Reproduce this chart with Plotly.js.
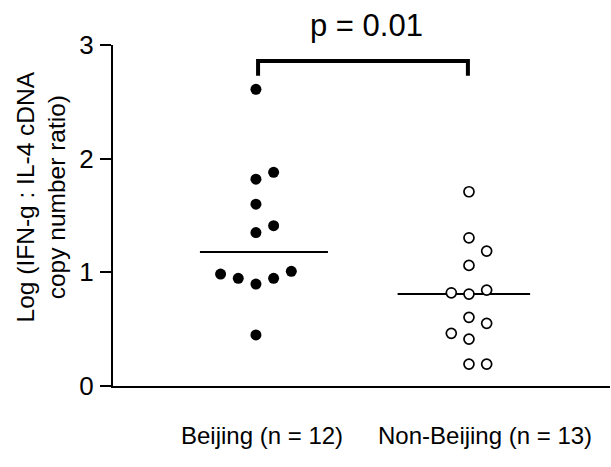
<!DOCTYPE html>
<html><head><meta charset="utf-8">
<script src="https://cdn.plot.ly/plotly-3.0.1.min.js"></script>
<style>html,body{margin:0;padding:0;background:#fff}#chart{width:611px;height:467px}</style>
</head><body><div id="chart"></div>
<script>
// Data
const groups = ["Beijing (n = 12)", "Non-Beijing (n = 13)"];
const beijing = [2.61, 1.88, 1.82, 1.60, 1.41, 1.35, 0.985, 0.947, 0.897, 0.947, 1.009, 0.449];
const nonBeijing = [1.709, 1.304, 1.187, 1.061, 0.82, 0.809, 0.844, 0.604, 0.551, 0.463, 0.413, 0.193, 0.193];
const pText = "p = 0.01";
const yTitle = "Log (IFN-g : IL-4 cDNA<br>copy number ratio)";
const yTicks = [0, 1, 2, 3];

// Layout helpers (scatter slot offsets, in marker-width units)
const beijingSlots = [0, 1, 0, 0, 1, 0, -2, -1, 0, 1, 2, 0];
const nonBeijingSlots = [0, 0, 1, 0, -1, 0, 1, 0, 1, -1, 0, 0, 1];
const slotW = 0.083;

function median(a){const s=[...a].sort((x,y)=>x-y);const n=s.length;return n%2?s[(n-1)/2]:(s[n/2-1]+s[n/2])/2;}
const mB = median(beijing), mN = median(nonBeijing);

const traces = [
  {x:[-0.263, 0.338], y:[mB, mB], mode:'lines', line:{color:'#000', width:2}, hoverinfo:'skip'},
  {x:[1-0.335, 1+0.287], y:[mN, mN], mode:'lines', line:{color:'#000', width:2}, hoverinfo:'skip'},
  {x: beijingSlots.map((s)=>0+s*slotW), y: beijing, mode:'markers', type:'scatter',
   marker:{size:11, color:'#000', line:{width:0}}, hoverinfo:'skip'},
  {x: nonBeijingSlots.map((s)=>1+s*slotW), y: nonBeijing, mode:'markers', type:'scatter',
   marker:{size:10, color:'#fff', line:{width:1.7, color:'#000'}}, hoverinfo:'skip'},
  {x:[0.01, 0.01, 0.995, 0.995], y:[2.73, 2.86, 2.86, 2.73], mode:'lines', line:{color:'#000', width:4}, hoverinfo:'skip'}
];

const layout = {
  width:611, height:467,
  margin:{l:113, r:1, t:45, b:81},
  paper_bgcolor:'#fff', plot_bgcolor:'#fff',
  showlegend:false,
  font:{family:'Arial, Liberation Sans, sans-serif', color:'#000'},
  xaxis:{range:[-0.671, 1.662], showgrid:false, zeroline:false, showline:true, linecolor:'#000', linewidth:2,
         showticklabels:false, ticks:'', fixedrange:true},
  yaxis:{range:[0, 3], tickvals:yTicks, ticktext:yTicks.map(String), showgrid:false, zeroline:false, showline:true,
         linecolor:'#000', linewidth:2, ticks:'outside', ticklen:11, tickwidth:2, tickcolor:'#000',
         tickfont:{size:26}, ticklabelstandoff:1, fixedrange:true},
  annotations:[
    {text:pText, x:0.52, xref:'x', y:1.056, yref:'paper', showarrow:false, font:{size:31}, yanchor:'middle'},
    {text:groups[0], x:0.028, xref:'x', y:-0.1466, yref:'paper', showarrow:false, font:{size:24}, yanchor:'middle'},
    {text:groups[1], x:1.075, xref:'x', y:-0.1466, yref:'paper', showarrow:false, font:{size:24}, yanchor:'middle'},
    {text:yTitle, textangle:-90, x:0, xref:'paper', xanchor:'center', y:0.553, yref:'paper', yanchor:'middle', showarrow:false, font:{size:24.5}}
  ]
};
// y-title centre x in pixels -> paper coords
layout.annotations[3].x = (41 - layout.margin.l) / (layout.width - layout.margin.l - layout.margin.r);
Plotly.newPlot('chart', traces, layout, {displayModeBar:false, staticPlot:true});
</script></body></html>
